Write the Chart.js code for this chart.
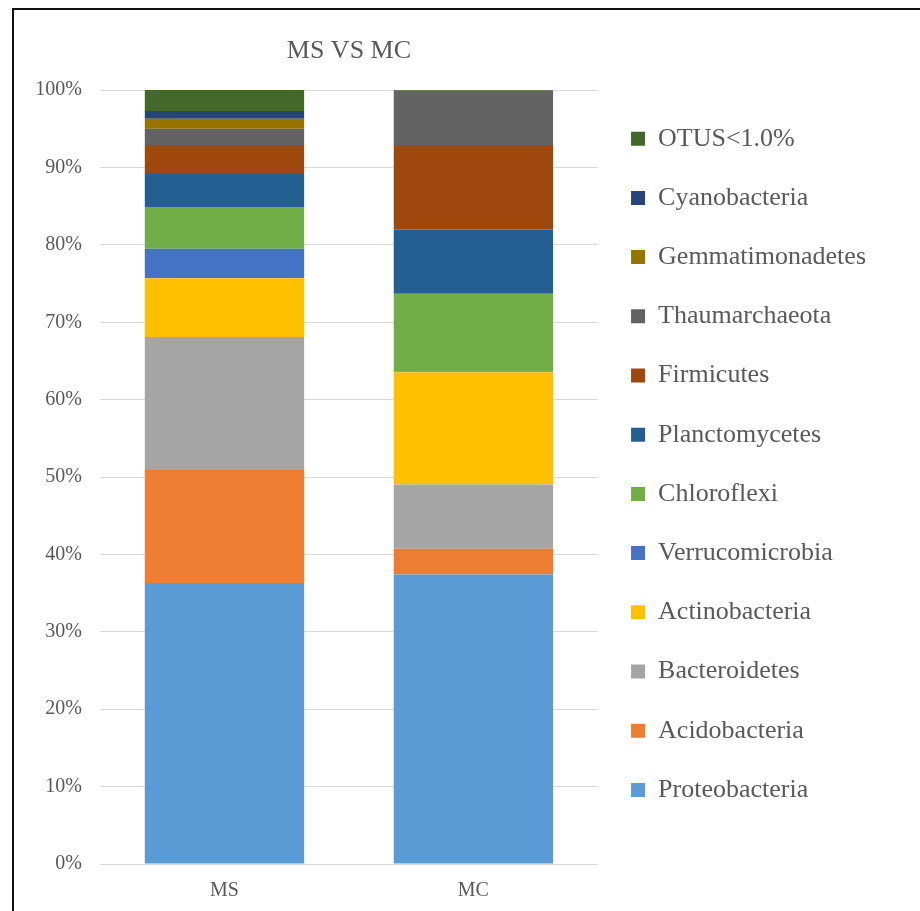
<!DOCTYPE html>
<html>
<head>
<meta charset="utf-8">
<script src="https://cdn.jsdelivr.net/npm/chart.js@4/dist/chart.umd.min.js"></script>
<style>
  html, body { margin: 0; padding: 0; background: #fff; }
  #wrap { position: relative; width: 920px; height: 911px; }
  #frame {
    position: absolute; left: 12px; top: 8px; right: -4px; bottom: -4px;
    border-left: 2px solid #111; border-top: 2px solid #111;
    pointer-events: none;
  }
</style>
</head>
<body>
<div id="wrap">
  <canvas id="chart" width="920" height="911"></canvas>
  <div id="frame"></div>
</div>
<script>
// samples on the x axis
const categories = ['MS', 'MC'];

// relative abundance (%) per phylum, [MS, MC]
const proteobacteria   = [36.3, 37.4];
const acidobacteria    = [14.6, 3.35];
const bacteroidetes    = [17.2, 8.3];
const actinobacteria   = [7.6, 14.5];
const verrucomicrobia  = [3.8, 0.05];
const chloroflexi      = [5.4, 10.1];
const planctomycetes   = [4.4, 8.3];
const firmicutes       = [3.6, 10.9];
const thaumarchaeota   = [2.1, 7.0];
const gemmatimonadetes = [1.3, 0.0];
const cyanobacteria    = [1.0, 0.02];
const otus             = [2.7, 0.1];

const seriesNames = [
  'Proteobacteria', 'Acidobacteria', 'Bacteroidetes', 'Actinobacteria',
  'Verrucomicrobia', 'Chloroflexi', 'Planctomycetes', 'Firmicutes',
  'Thaumarchaeota', 'Gemmatimonadetes', 'Cyanobacteria', 'OTUS<1.0%'
];
const seriesValues = [
  proteobacteria, acidobacteria, bacteroidetes, actinobacteria,
  verrucomicrobia, chloroflexi, planctomycetes, firmicutes,
  thaumarchaeota, gemmatimonadetes, cyanobacteria, otus
];
const seriesColors = [
  '#5B9BD5', '#ED7D31', '#A5A5A5', '#FFC000',
  '#4472C4', '#70AD47', '#255E91', '#9E480E',
  '#636363', '#997300', '#264478', '#43682B'
];

const yTicks = [0, 10, 20, 30, 40, 50, 60, 70, 80, 90, 100];

const textColor = '#595959';
const serif = "'Liberation Serif', 'DejaVu Serif', serif";

const datasets = seriesNames.map((name, i) => ({
  label: name,
  data: seriesValues[i],
  backgroundColor: seriesColors[i],
  borderWidth: 0,
  barPercentage: 0.64,
  categoryPercentage: 1.0
}));

new Chart(document.getElementById('chart'), {
  type: 'bar',
  data: { labels: categories, datasets: datasets },
  options: {
    responsive: false,
    animation: false,
    layout: { padding: { top: 21, left: 20, right: 44, bottom: 10 } },
    plugins: {
      title: {
        display: true,
        text: 'MS VS MC',
        fullSize: false,
        color: textColor,
        font: { family: serif, size: 26, weight: 'normal' },
        padding: { top: 14.4, bottom: 23.5 }
      },
      legend: {
        position: 'right',
        align: 'start',
        fullSize: false,
        reverse: true,
        maxWidth: 400,
        title: { display: true, text: '', font: { size: 2 }, padding: 0 },
        labels: {
          color: textColor,
          font: { family: serif, size: 26 },
          boxWidth: 14,
          boxHeight: 14,
          padding: 33.2
        }
      },
      tooltip: { enabled: false }
    },
    scales: {
      x: {
        stacked: true,
        grid: { display: false, drawTicks: false },
        border: { display: false },
        afterFit: axis => { axis.height = 37; },
        ticks: {
          color: textColor,
          padding: 15,
          font: { family: serif, size: 20 }
        }
      },
      y: {
        stacked: true,
        min: 0,
        max: 100,
        afterBuildTicks: axis => { axis.ticks = yTicks.map(v => ({ value: v })); },
        afterFit: axis => { axis.width = 80; },
        grid: { color: '#d9d9d9', lineWidth: 1, drawTicks: false },
        border: { display: false },
        ticks: {
          color: textColor,
          padding: 18,
          font: { family: serif, size: 20 },
          callback: v => v + '%'
        }
      }
    }
  }
});
</script>
</body>
</html>
